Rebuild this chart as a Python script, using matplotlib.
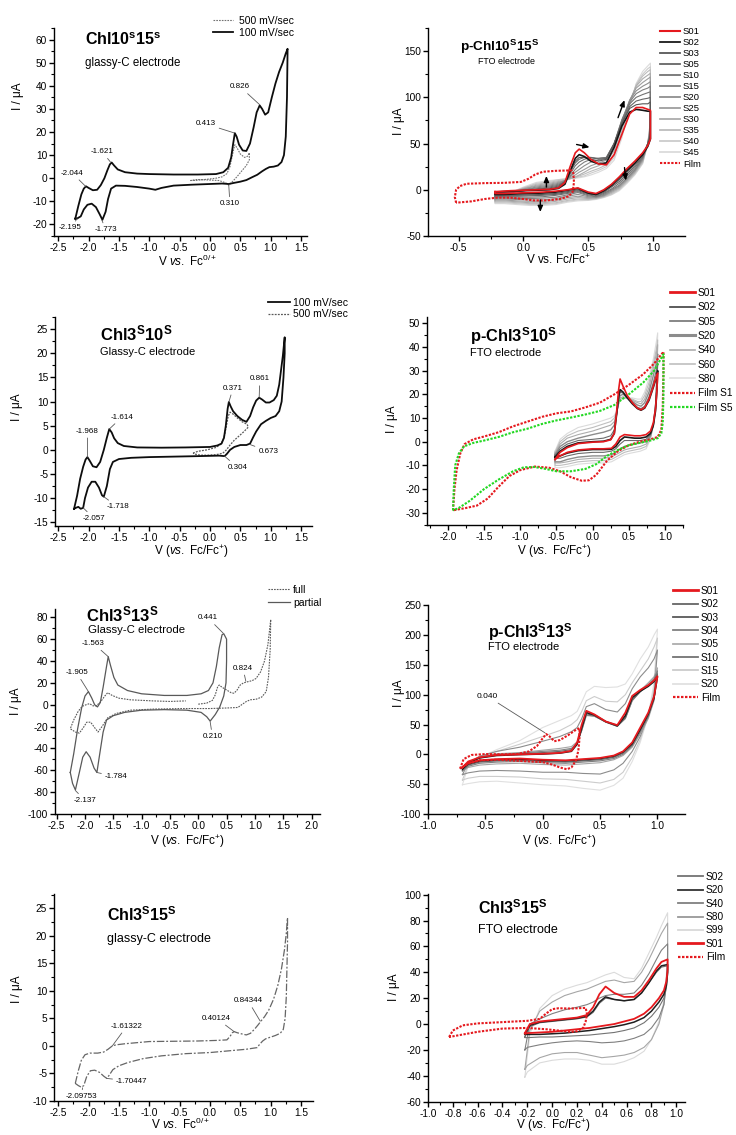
import matplotlib
matplotlib.use('Agg')
import matplotlib.pyplot as plt
from matplotlib.ticker import MultipleLocator, AutoMinorLocator, FuncFormatter
from matplotlib.lines import Line2D

plt.rcParams.update({
    'font.family': ['Liberation Sans', 'DejaVu Sans'],
    'mathtext.fontset': 'custom',
    'mathtext.rm': 'Liberation Sans',
    'mathtext.it': 'Liberation Sans:italic',
    'mathtext.bf': 'Liberation Sans:bold',
    'axes.unicode_minus': False,
})

# ---------------- DATA ----------------
# Panel 1: Chl10s15s glassy-C
p1_100 = [(-2.22,-17.5),(-2.17,-12),(-2.12,-7),(-2.08,-4.5),(-2.044,-3.5),(-2.0,-4.2),(-1.93,-5.2),(-1.86,-5.0),
          (-1.80,-3.0),(-1.74,0.0),(-1.69,3.5),(-1.65,6.0),(-1.62,6.8),(-1.58,5.5),(-1.52,3.8),(-1.4,2.6),(-1.2,2.0),
          (-1.0,1.8),(-0.6,1.6),(-0.2,1.6),(0.1,1.8),(0.22,2.6),(0.3,4.5),(0.35,9.0),(0.38,14.5),(0.41,19.5),(0.44,18.0),
          (0.48,14.5),(0.54,12.0),(0.6,11.8),(0.66,15.0),(0.72,22.0),(0.77,28.5),(0.82,31.5),(0.86,30.0),(0.91,27.5),
          (0.96,28.5),(1.02,35.0),(1.08,41.0),(1.14,46.0),(1.2,50.0),(1.25,54.0),(1.28,56.0),
          (1.28,56),(1.27,35),(1.25,18),(1.22,10),(1.18,7),(1.12,5.5),(1.05,5.0),(0.98,4.8),(0.92,4.0),(0.86,3.0),
          (0.78,1.5),(0.7,0.5),(0.6,-0.8),(0.5,-1.5),(0.4,-2.0),(0.31,-2.5),(0.2,-2.3),(0.0,-2.5),(-0.3,-2.8),
          (-0.6,-3.2),(-0.8,-4.2),(-0.9,-5.0),(-1.0,-4.5),(-1.2,-3.8),(-1.4,-3.3),(-1.55,-3.2),(-1.63,-4.5),
          (-1.68,-9.0),(-1.72,-14.5),(-1.773,-18.0),(-1.82,-15.5),(-1.88,-12.5),(-1.95,-11.0),(-2.02,-11.5),
          (-2.08,-13.5),(-2.13,-16.5),(-2.195,-17.5),(-2.22,-17.5)]
p1_500 = [(-0.32,-1.0),(-0.1,-0.6),(0.1,0.0),(0.2,0.6),(0.28,2.0),(0.33,5.0),(0.37,10.0),(0.41,14.5),(0.45,13.0),
          (0.5,10.5),(0.57,9.0),(0.62,9.5),(0.65,11.0),(0.65,8.0),(0.6,5.5),(0.52,3.0),(0.44,0.5),(0.37,-1.5),
          (0.31,-3.0),(0.26,-2.0),(0.15,-1.0),(0.0,-0.8),(-0.2,-0.6),(-0.32,-1.0)]
p1_labels = [("0.826", (0.50, 39.5), (0.82, 31.8)), ("0.413", (-0.07, 23.5), (0.40, 19.6)),
             ("-1.621", (-1.78, 11.5), (-1.64, 7.0)), ("-2.044", (-2.27, 2.2), (-2.05, -3.5)),
             ("-2.195", (-2.30, -21.5), (-2.19, -17.5)), ("-1.773", (-1.72, -22.3), (-1.78, -18.2)),
             ("0.310", (0.33, -11.0), (0.31, -3.0))]
p1_legend = ["500 mV/sec", "100 mV/sec"]

# Panel 2: p-Chl10S15S FTO
p2_vup = [-0.22, -0.1, 0.0, 0.1, 0.2, 0.27, 0.32, 0.36, 0.40, 0.43, 0.47, 0.52, 0.58, 0.64, 0.70, 0.76, 0.82, 0.87, 0.92, 0.96, 0.98]
p2_vdn = [0.98, 0.96, 0.92, 0.86, 0.80, 0.74, 0.68, 0.62, 0.56, 0.50, 0.42, 0.34, 0.25, 0.15, 0.05, -0.05, -0.15, -0.22]
p2_S01_up = [-2, -1, -0.5, 0, 0.5, 2, 8, 25, 40, 44, 40, 33, 28, 27, 38, 60, 82, 89, 89, 87, 86]
p2_S01_dn = [55, 48, 40, 31, 23, 14, 6, 0, -4, -2.5, 2, 0, -1.5, -2.5, -3, -3.5, -4, -4]
p2_S02_up = [-2.5, -1.5, -1, -0.5, 0, 1.5, 6, 20, 34, 38, 36, 31, 28, 29, 46, 69, 84, 87, 86, 85, 85]
p2_S02_dn = [55, 47, 38, 29, 21, 13, 5, -1, -5, -3.5, 1.5, -0.5, -2.5, -3.5, -4, -4.5, -5, -5]
p2_S03_up = [-3, -2, -1, 0, 1, 3, 8, 20, 31, 35, 35, 33, 31, 33, 50, 72, 88, 92, 93, 93, 95]
p2_S03_dn = [58, 50, 38, 28, 19, 11, 4, -2, -5.5, -4, 0, -2, -4, -5, -5.5, -6, -6, -6]
p2_S05_up = [-3.5, -2.5, -1, 0.5, 2, 4, 9, 19, 29, 33, 35, 35, 33, 34, 50, 73, 90, 96, 98, 99, 100]
p2_S05_dn = [60, 50, 36, 26, 17, 9, 3, -3, -6, -4.5, -1, -3, -5, -6, -6.5, -7, -7, -7]
p2_S10_up = [-4, -3, -1, 1, 3, 5, 9, 17, 26, 30, 33, 35, 34, 35, 50, 75, 93, 100, 103, 105, 106]
p2_S10_dn = [62, 50, 35, 24, 15, 7, 1, -4, -7, -5.5, -2, -4, -6, -7.5, -8, -8, -8, -8]
p2_S15_up = [-5, -3, 0, 2, 4, 6, 9, 15, 22, 26, 30, 33, 34, 35, 50, 76, 95, 104, 108, 110, 112]
p2_S15_dn = [64, 50, 34, 22, 13, 5, 0, -5, -7.5, -6.5, -3, -5.5, -8, -9, -9.5, -9.5, -9, -9]
p2_S20_up = [-6, -3, 0, 3, 5, 7, 10, 14, 19, 22, 26, 30, 32, 34, 48, 75, 97, 107, 112, 115, 117]
p2_S20_dn = [66, 50, 33, 21, 12, 4, -1, -6, -8, -7.5, -5, -7, -9.5, -11, -11, -10.5, -10, -10]
p2_S25_up = [-7, -3, 1, 4, 6, 8, 10, 13, 16, 19, 22, 26, 29, 32, 45, 72, 97, 110, 116, 120, 122]
p2_S25_dn = [68, 50, 32, 20, 11, 3, -2, -6.5, -8.5, -8.5, -7, -8.5, -11, -12.5, -12.5, -12, -11, -11]
p2_S30_up = [-8, -3, 1, 5, 7, 9, 10, 12, 14, 16, 19, 23, 26, 30, 42, 68, 96, 112, 120, 124, 126]
p2_S30_dn = [70, 50, 31, 19, 10, 2, -3, -7, -9, -9.5, -8.5, -10, -12.5, -14, -14, -13, -12, -12]
p2_S35_up = [-9, -3, 2, 6, 8, 10, 11, 12, 13, 15, 17, 20, 23, 27, 38, 64, 94, 113, 123, 128, 130]
p2_S35_dn = [72, 50, 30, 18, 9, 1, -4, -7.5, -9.5, -10.5, -10, -11.5, -14, -15, -15, -14, -13, -13]
p2_S40_up = [-10, -3, 2, 7, 9, 11, 11.5, 12, 13, 14, 15, 18, 21, 25, 35, 60, 92, 114, 125, 131, 133]
p2_S40_dn = [74, 50, 29, 17, 8, 0, -5, -8, -10, -11, -11, -12.5, -15, -16, -16, -15, -14, -14]
p2_S45_up = [-11, -3, 3, 8, 10, 11, 12, 12, 12.5, 13, 14, 16, 19, 23, 32, 56, 90, 115, 128, 134, 137]
p2_S45_dn = [76, 50, 28, 16, 7, -1, -5.5, -8.5, -10.5, -11.5, -12, -13.5, -16, -17, -17, -16, -15, -15]
p2_film = [(-0.52,-14),(-0.53,-8),(-0.52,0),(-0.49,4),(-0.44,6.5),(-0.3,7.2),(-0.15,7.5),(-0.02,8.5),(0.04,12),
           (0.09,16.5),(0.15,19.5),(0.25,20.5),(0.37,21),(0.385,18),(0.39,8),(0.38,-2),(0.35,-7),(0.28,-10),
           (0.18,-11.5),(0.08,-11.5),(0.0,-10),(-0.1,-8.5),(-0.2,-8.5),(-0.3,-10),(-0.4,-12.5),(-0.52,-14)]
p2_arrows = [((0.73, 78), (0.78, 97)), ((0.41, 49), (0.51, 46)), ((0.177, 3), (0.177, 15)),
             ((0.13, -11), (0.13, -24)), ((0.78, 24), (0.79, 10))]
p2_names = ["S01", "S02", "S03", "S05", "S10", "S15", "S20", "S25", "S30", "S35", "S40", "S45", "Film"]

# Panel 3: Chl3S10S glassy-C
p3_100 = [(-2.24,-12.2),(-2.19,-9.5),(-2.14,-6.0),(-2.09,-3.5),(-2.05,-2.0),(-2.02,-1.5),(-1.98,-2.3),(-1.93,-3.4),
          (-1.87,-3.6),(-1.81,-2.5),(-1.75,0.0),(-1.7,2.5),(-1.66,4.3),(-1.62,3.6),(-1.58,2.4),(-1.52,1.4),
          (-1.42,0.8),(-1.2,0.5),(-0.8,0.45),(-0.4,0.5),(0.0,0.6),(0.12,0.9),(0.19,1.3),(0.23,2.5),(0.26,5.0),
          (0.29,8.5),(0.31,9.9),(0.34,9.0),(0.38,8.0),(0.45,7.0),(0.53,6.2),(0.6,5.8),(0.66,7.0),(0.71,8.8),
          (0.76,10.2),(0.81,10.8),(0.86,10.4),(0.92,9.8),(0.98,9.8),(1.05,10.3),(1.1,11.2),(1.14,13.5),(1.17,16.5),
          (1.2,19.5),(1.23,23.3),
          (1.23,20),(1.21,15),(1.18,10),(1.14,8),(1.08,7.0),(1.0,6.6),(0.92,6.0),(0.84,5.3),(0.76,3.8),(0.71,2.6),
          (0.66,1.3),(0.6,1.0),(0.5,1.0),(0.4,0.6),(0.33,0.0),(0.28,-0.8),(0.24,-1.3),(0.15,-1.2),(-0.2,-1.3),
          (-0.6,-1.4),(-1.0,-1.5),(-1.3,-1.65),(-1.5,-1.9),(-1.6,-2.5),(-1.65,-4.0),(-1.7,-7.5),(-1.75,-9.7),
          (-1.78,-9.4),(-1.83,-7.8),(-1.89,-6.6),(-1.95,-6.6),(-2.01,-7.8),(-2.06,-10.0),(-2.09,-12.0),
          (-2.13,-12.2),(-2.17,-11.8),(-2.21,-12.0),(-2.24,-12.2)]
p3_500 = [(-0.28,-0.7),(-0.2,-0.3),(-0.05,0.0),(0.1,0.5),(0.18,1.2),(0.23,2.5),(0.27,5.0),(0.3,7.0),(0.33,7.8),
          (0.38,7.4),(0.45,6.6),(0.53,5.8),(0.61,5.3),(0.63,4.7),(0.56,3.8),(0.49,3.0),(0.4,2.0),(0.33,1.0),
          (0.27,0.0),(0.21,-0.7),(0.1,-1.0),(-0.05,-1.1),(-0.16,-1.1),(-0.24,-0.9),(-0.28,-0.7)]
p3_labels = [("0.371", (0.38, 12.8), (0.31, 9.9)), ("0.861", (0.82, 14.7), (0.81, 10.9)),
             ("-1.614", (-1.45, 6.8), (-1.66, 4.3)), ("-1.968", (-2.02, 3.9), (-2.02, -1.5)),
             ("0.673", (0.96, -0.3), (0.66, 1.1)), ("0.304", (0.45, -3.6), (0.24, -1.3)),
             ("-1.718", (-1.52, -11.8), (-1.75, -9.7)), ("-2.057", (-1.91, -14.2), (-2.09, -12.0))]
p3_legend = ["100 mV/sec", "500 mV/sec"]

# Panel 4: p-Chl3S10S FTO
p4_vup = [-0.52, -0.45, -0.35, -0.2, 0.0, 0.15, 0.25, 0.30, 0.33, 0.36, 0.38, 0.42, 0.48, 0.55, 0.62, 0.67, 0.72, 0.78, 0.84, 0.88, 0.90]
p4_vdn = [0.90, 0.89, 0.87, 0.84, 0.80, 0.74, 0.66, 0.58, 0.50, 0.44, 0.38, 0.32, 0.26, 0.15, 0.0, -0.2, -0.35, -0.45, -0.52]
p4_S01_up = [-7.5, -4.5, -2.5, -0.8, -0.2, 0, 0.8, 3.5, 12, 22, 26.5, 23.5, 19.5, 16.5, 14.2, 13.5, 14.5, 18, 23.5, 27.5, 29]
p4_S01_dn = [29, 22, 14, 8, 4.5, 3, 2.5, 2.5, 2.8, 3, 2, -1, -2.8, -3, -3, -3.5, -4.5, -6, -7.5]
p4_S02_up = [-6.5, -4, -2, -0.5, 0, 0.2, 1, 3.5, 11, 19, 22, 21, 18.5, 16, 14, 13.3, 14.2, 17.5, 23, 27, 30]
p4_S02_dn = [30, 22, 13, 7, 3.5, 2, 1.5, 1.5, 1.8, 2, 0.5, -2, -3.2, -3.3, -3.3, -3.8, -4.8, -6, -6.5]
p4_S05_up = [-6, -3, -1, 0.5, 1, 1.5, 2.5, 5, 11, 18, 21, 20.5, 18.5, 16.5, 14.5, 14, 15, 19, 25, 30, 33]
p4_S05_dn = [33, 24, 14, 7, 3, 1, 0.5, 0.5, 0.5, 0.5, -1, -3, -4, -4.5, -4.5, -5, -6, -7, -7]
p4_S20_up = [-5.5, -2, 0, 1.5, 3, 4, 5, 7, 11.5, 17, 19.5, 20, 19, 17, 15.5, 15, 16.5, 21, 28, 33, 37]
p4_S20_dn = [37, 26, 15, 7, 2.5, 0, -0.5, -1, -1.5, -2, -3, -4.5, -5.5, -6, -6, -6.5, -7.5, -8.5, -8.5]
p4_S40_up = [-5, -1, 1.5, 3, 4.5, 6, 7, 8.5, 12, 16, 18.5, 19, 18.5, 17.5, 16.5, 16, 18, 23, 31, 37, 41]
p4_S40_dn = [41, 28, 16, 7, 2, -1, -2, -2.5, -3, -3.5, -4.5, -5.5, -6.5, -7, -7, -7.5, -8.5, -9, -9]
p4_S60_up = [-4.5, 0, 2.5, 4.5, 6, 7.5, 8.5, 10, 12.5, 16, 18, 18.5, 18.5, 18, 17, 17, 19.5, 25, 33, 39, 43]
p4_S60_dn = [43, 29, 16, 7, 1.5, -2, -3, -3.5, -4, -4.5, -5.5, -6.5, -7.5, -8, -8, -8.5, -9.5, -10, -10]
p4_S80_up = [-4, 1, 3.5, 6, 7.5, 9, 10, 11, 13, 16, 17.5, 18, 18.5, 18.5, 18, 18, 21, 27, 35, 42, 46]
p4_S80_dn = [46, 30, 16, 7, 1, -3, -4, -4.5, -5, -5.5, -6.5, -7.5, -8.5, -9, -9, -9.5, -10.5, -11, -11]
p4_film1 = [(-1.93,-29),(-1.91,-20),(-1.88,-12),(-1.83,-5),(-1.77,-1),(-1.65,1),(-1.5,2.2),(-1.3,4),(-1.1,6.5),
            (-0.9,8.5),(-0.7,10.5),(-0.5,12),(-0.3,12.8),(-0.1,14.5),(0.1,16.5),(0.3,20),(0.5,24),(0.7,28.5),
            (0.85,33),(0.98,38),(0.98,30),(0.97,15),(0.95,5),(0.9,2),(0.8,1),(0.65,0),(0.5,-1.5),(0.35,-4),
            (0.2,-8),(0.05,-14),(-0.05,-16.3),(-0.15,-16.5),(-0.3,-15),(-0.45,-12.5),(-0.6,-11),(-0.8,-10.5),
            (-1.0,-12),(-1.15,-14.5),(-1.3,-19),(-1.45,-24),(-1.6,-27),(-1.75,-28),(-1.93,-29)]
p4_film5 = [(-1.93,-29),(-1.92,-20),(-1.9,-10),(-1.85,-5),(-1.78,-2),(-1.65,-0.5),(-1.5,0.5),(-1.3,2),(-1.1,4),
            (-0.9,5.5),(-0.7,7.5),(-0.5,9),(-0.3,10.2),(-0.1,11.5),(0.1,13),(0.3,15.5),(0.5,20),(0.7,25),(0.85,30),
            (0.98,37),(0.98,20),(0.97,8),(0.95,3.5),(0.9,1.5),(0.8,0.5),(0.65,-0.5),(0.5,-1.5),(0.35,-3.5),(0.2,-6),
            (0.05,-9.5),(-0.1,-11.5),(-0.3,-12.5),(-0.5,-12.5),(-0.65,-11.5),(-0.8,-10.7),(-0.95,-10.8),(-1.1,-12.5),
            (-1.3,-16),(-1.5,-20),(-1.7,-25),(-1.85,-28),(-1.93,-29)]
p4_names = ["S01", "S02", "S05", "S20", "S40", "S60", "S80", "Film S1", "Film S5"]

# Panel 5: Chl3S13S glassy-C
p5_partial = [(-2.26,-62),(-2.2,-45),(-2.13,-22),(-2.06,-3),(-2.0,8),(-1.94,12),(-1.88,6),(-1.83,0),(-1.78,-2),
              (-1.73,2),(-1.68,16),(-1.62,35),(-1.59,44),(-1.55,36),(-1.49,25),(-1.42,18),(-1.25,13),(-1.0,10),
              (-0.6,8.5),(-0.2,8.5),(0.05,10),(0.18,13),(0.26,20),(0.32,35),(0.37,52),(0.42,64),(0.45,65),(0.5,60),
              (0.5,40),(0.49,20),(0.45,8),(0.38,-2),(0.3,-9),(0.21,-15),(0.15,-11),(0.05,-7),(-0.2,-5),(-0.6,-4.5),
              (-1.0,-5),(-1.3,-7),(-1.5,-10),(-1.62,-14),(-1.68,-25),(-1.74,-45),(-1.79,-62),(-1.84,-58),(-1.91,-48),
              (-1.98,-43),(-2.04,-48),(-2.1,-62),(-2.17,-78),(-2.22,-72),(-2.26,-62)]
p5_full = [(0.0,0.5),(0.15,1.5),(0.25,4),(0.3,9),(0.34,16),(0.37,18),(0.42,16),(0.5,13.5),(0.58,11),(0.63,10.5),
           (0.68,13),(0.74,18),(0.8,20),(0.87,21),(0.95,22),(1.02,24),(1.1,30),(1.17,40),(1.23,55),(1.28,78),
           (1.27,50),(1.24,25),(1.2,12),(1.12,7),(1.02,5),(0.92,4.5),(0.85,3),(0.78,0.5),(0.7,-2.5),(0.5,-3),
           (0.2,-3.5),(-0.3,-3.5),(-0.8,-4),(-1.2,-5),(-1.45,-8),(-1.6,-12),(-1.7,-20),(-1.77,-25),(-1.83,-21),
           (-1.9,-16),(-1.97,-16),(-2.03,-21),(-2.1,-26),(-2.17,-25),(-2.26,-22),(-2.2,-14),(-2.12,-6),
           (-2.05,-1.5),(-1.98,0),(-1.92,1),(-1.86,-1),(-1.8,-1),(-1.72,3),(-1.65,8),(-1.6,11),(-1.52,8.5),
           (-1.4,6),(-1.2,4.5),(-0.8,3.5),(-0.5,3),(-0.22,3.5)]
p5_labels = [("0.441", (0.17, 79.5), (0.44, 65.5)), ("0.824", (0.79, 33.5), (0.84, 21.5)),
             ("0.210", (0.25, -29), (0.21, -15.5)), ("-1.563", (-1.85, 56), (-1.59, 44)),
             ("-1.905", (-2.15, 29.5), (-1.94, 12)), ("-1.784", (-1.45, -66), (-1.79, -62)),
             ("-2.137", (-2.0, -87.5), (-2.17, -78.5))]
p5_legend = ["full", "partial"]

# Panel 6: p-Chl3S13S FTO
p6_vup = [-0.70, -0.65, -0.55, -0.40, -0.20, 0.0, 0.15, 0.25, 0.30, 0.34, 0.38, 0.45, 0.55, 0.65, 0.72, 0.78, 0.85, 0.92, 0.97, 1.0]
p6_vdn = [1.0, 0.97, 0.92, 0.85, 0.78, 0.70, 0.62, 0.50, 0.35, 0.20, 0.0, -0.2, -0.4, -0.55, -0.65, -0.70]
p6_S01_up = [-22, -12, -5, -1, 0, 1, 2.5, 6, 20, 50, 73, 67, 55, 49, 70, 98, 108, 116, 124, 131]
p6_S01_dn = [131, 97, 70, 45, 20, 5, -2, -6, -8, -10, -9, -7, -8, -10, -15, -22]
p6_S02_up = [-24, -14, -6, -2, -0.5, 0.5, 2, 5, 17, 45, 70, 66, 55, 48, 65, 95, 106, 114, 122, 130]
p6_S02_dn = [130, 95, 68, 42, 18, 4, -3, -7, -9, -11, -10, -8, -9, -11, -16, -24]
p6_S03_up = [-26, -15, -6, -1, 1, 3, 5, 8, 18, 42, 68, 65, 54, 47, 62, 92, 105, 115, 124, 135]
p6_S03_dn = [135, 93, 65, 40, 16, 2, -5, -9, -11, -13, -12, -10, -11, -13, -18, -26]
p6_S04_up = [-27, -15, -5, 0, 2, 5, 7, 10, 19, 40, 66, 64, 54, 47, 60, 90, 105, 117, 127, 140]
p6_S04_dn = [140, 92, 63, 37, 14, 0, -7, -11, -13, -15, -14, -12, -13, -15, -20, -27]
p6_S05_up = [-28, -15, -4, 1, 3, 7, 10, 13, 21, 40, 65, 64, 55, 48, 60, 90, 107, 120, 130, 145]
p6_S05_dn = [145, 90, 60, 34, 12, -2, -9, -14, -16, -18, -17, -15, -16, -18, -22, -28]
p6_S10_up = [-34, -15, -3, 5, 12, 22, 30, 38, 45, 60, 80, 85, 75, 71, 85, 110, 130, 145, 160, 175]
p6_S10_dn = [175, 100, 65, 30, 5, -15, -26, -33, -32, -30, -30, -28, -27, -28, -31, -34]
p6_S15_up = [-43, -18, -5, 5, 17, 30, 40, 50, 58, 72, 90, 97, 89, 88, 100, 120, 140, 160, 180, 195]
p6_S15_dn = [195, 110, 65, 25, -5, -30, -42, -48, -45, -42, -41, -38, -37, -37, -40, -43]
p6_S20_up = [-51, -20, -5, 8, 23, 45, 57, 65, 72, 88, 105, 114, 112, 113, 118, 135, 160, 180, 200, 210]
p6_S20_dn = [210, 120, 65, 20, -12, -40, -52, -60, -57, -53, -51, -48, -45, -46, -49, -51]
p6_film = [(-0.72,-24),(-0.69,-8),(-0.62,-1),(-0.5,0.5),(-0.35,0),(-0.22,0.5),(-0.12,5),(-0.05,14),(0.0,27),
           (0.03,34),(0.06,30),(0.1,22),(0.15,24),(0.22,32),(0.28,40),(0.32,44),(0.32,25),(0.31,6),(0.29,-10),
           (0.25,-22),(0.21,-25),(0.15,-22),(0.08,-17),(0.0,-13),(-0.2,-11),(-0.4,-9),(-0.55,-10),(-0.65,-15),
           (-0.72,-24)]
p6_labels = [("0.040", (-0.48, 97), (0.02, 36))]
p6_names = ["S01", "S02", "S03", "S04", "S05", "S10", "S15", "S20", "Film"]

# Panel 7: Chl3S15S glassy-C
p7_cv = [(-2.22,-6.8),(-2.17,-4.5),(-2.12,-2.6),(-2.06,-1.6),(-1.98,-1.3),(-1.85,-1.3),(-1.75,-1.1),(-1.68,-0.6),
         (-1.61,0.0),(-1.55,0.2),(-1.4,0.4),(-1.2,0.6),(-1.0,0.8),(-0.6,0.85),(-0.2,0.9),(0.1,1.0),(0.28,1.1),
         (0.33,1.7),(0.37,2.4),(0.40,2.6),(0.45,2.4),(0.52,2.2),(0.6,2.0),(0.67,2.3),(0.74,3.1),(0.8,3.9),
         (0.84,4.5),(0.9,5.3),(0.97,6.5),(1.05,8.5),(1.12,11),(1.18,14),(1.23,17.5),(1.26,20.5),(1.28,23.3),
         (1.28,19),(1.27,14),(1.26,9),(1.24,5),(1.21,3),(1.16,2.3),(1.08,1.9),(1.0,1.6),(0.92,1.3),(0.87,0.9),
         (0.82,0.3),(0.78,-0.3),(0.6,-0.6),(0.3,-0.9),(0.0,-1.2),(-0.4,-1.4),(-0.8,-1.8),(-1.1,-2.3),(-1.35,-3.0),
         (-1.5,-3.6),(-1.6,-4.3),(-1.66,-5.3),(-1.70,-5.9),(-1.75,-5.5),(-1.82,-4.8),(-1.9,-4.4),(-1.97,-4.5),
         (-2.03,-5.5),(-2.08,-7.2),(-2.12,-7.5),(-2.17,-7.2),(-2.22,-6.8)]
p7_labels = [("0.84344", (0.63, 8.2), (0.83, 4.5)), ("0.40124", (0.11, 5.0), (0.40, 2.6)),
             ("-1.61322", (-1.37, 3.6), (-1.61, 0.0)), ("-1.70447", (-1.29, -6.4), (-1.70, -5.9)),
             ("-2.09753", (-2.12, -9.2), (-2.10, -7.6))]

# Panel 8: Chl3S15S FTO
p8_vup = [-0.22, -0.18, -0.1, 0.0, 0.1, 0.2, 0.28, 0.33, 0.38, 0.43, 0.5, 0.58, 0.66, 0.72, 0.78, 0.84, 0.88, 0.93]
p8_vdn = [0.93, 0.92, 0.9, 0.86, 0.8, 0.74, 0.66, 0.58, 0.5, 0.4, 0.3, 0.2, 0.1, 0.0, -0.1, -0.2, -0.22]
p8_S01_up = [-7, 0, 2, 3, 4, 5, 7, 13, 23, 29, 24, 21, 21, 26, 34, 43, 48, 50]
p8_S01_dn = [42, 33, 26, 20, 13, 8, 4, 2, 0, -1.5, -3, -4, -5, -6, -6.5, -7, -7.5]
p8_S20_up = [-8, -1, 1.5, 2.5, 3.5, 4.5, 6, 10, 17, 21, 19, 18, 19, 24, 32, 41, 45, 46]
p8_S20_dn = [40, 30, 23, 17, 10, 5, 1.5, -0.5, -2, -3.5, -5, -6, -7, -7.5, -8, -8, -8]
p8_S02_up = [-10, -2, 1, 2, 3, 4, 5.5, 9, 16, 20, 19, 18, 19, 24, 32, 40, 44, 45]
p8_S02_dn = [38, 28, 20, 13, 6, 1, -3, -5, -6.5, -7.5, -8.5, -9, -9.5, -10, -10, -10.5, -10.5]
p8_S40_up = [-20, 0, 4, 8, 11, 13, 15, 17, 20, 22, 23, 23, 24, 30, 39, 50, 57, 62]
p8_S40_dn = [45, 30, 15, 5, -3, -8, -11, -13, -14, -14.5, -13.5, -13, -13.5, -14.5, -16, -18, -20]
p8_S80_up = [-35, -5, 10, 17, 22, 25, 27, 29, 31, 33, 34, 32, 33, 40, 50, 62, 70, 78]
p8_S80_dn = [50, 35, 15, 0, -12, -18, -22, -24, -25, -26, -24, -22, -22, -23, -26, -32, -35]
p8_S99_up = [-41, -8, 12, 22, 27, 30, 32, 34, 36, 38, 40, 36, 35, 43, 55, 67, 76, 86]
p8_S99_dn = [55, 38, 18, 2, -12, -21, -26, -29, -31, -31, -28, -27, -27, -28, -30, -37, -41]
p8_film = [(-0.83,-10),(-0.8,-5),(-0.72,-1),(-0.6,0.5),(-0.4,1.5),(-0.2,2.5),(-0.1,4),(-0.05,8),(0.0,11.5),
           (0.05,12.2),(0.15,12),(0.27,12.5),(0.28,8),(0.27,2),(0.25,-3),(0.2,-5.5),(0.15,-6),(0.05,-5),
           (-0.05,-4),(-0.2,-3),(-0.4,-3.5),(-0.6,-6),(-0.83,-10)]
p8_names = ["S02", "S20", "S40", "S80", "S99", "S01", "Film"]

# ---------------- DRAWING ----------------
W, H = 736, 1135
fig = plt.figure(figsize=(W / 100, H / 100), dpi=100)
RED = '#e5191e'
GREEN = '#22d822'
DOT = (0, (1.1, 0.7))


def add_axes(l, r, t, b):
    return fig.add_axes([l / W, 1 - b / H, (r - l) / W, (b - t) / H])


def fmt1(v, pos):
    s = f"{v:.1f}"
    return "0.0" if s == "-0.0" else s


def fmt0(v, pos):
    s = f"{v:.0f}"
    return "0" if s == "-0" else s


def style(ax, xlim, ylim, xmaj, ymaj, xlabel, ylab_dx, ylab_y, xlab_dy, xlab_x):
    ax.set_xlim(xlim)
    ax.set_ylim(ylim)
    ax.patch.set_alpha(0)
    for s in ['top', 'right']:
        ax.spines[s].set_visible(False)
    for s in ['left', 'bottom']:
        ax.spines[s].set_linewidth(1.0)
    ax.xaxis.set_major_locator(MultipleLocator(xmaj))
    ax.xaxis.set_minor_locator(AutoMinorLocator(2))
    ax.yaxis.set_major_locator(MultipleLocator(ymaj))
    ax.yaxis.set_minor_locator(AutoMinorLocator(2))
    ax.xaxis.set_major_formatter(FuncFormatter(fmt1))
    ax.yaxis.set_major_formatter(FuncFormatter(fmt0))
    ax.tick_params(which='major', direction='out', length=3.5, width=1.0, labelsize=7.3, pad=1.5)
    ax.tick_params(which='minor', direction='out', length=2, width=0.8)
    bb = ax.get_position()
    wpx, hpx = bb.width * W, bb.height * H
    ax.set_ylabel("I / \u03bcA", fontsize=8.5)
    ax.yaxis.set_label_coords(-ylab_dx / wpx, ylab_y)
    ax.set_xlabel(xlabel, fontsize=8.5)
    ax.xaxis.set_label_coords(xlab_x, -xlab_dy / hpx)


def plot_pairs(ax, pairs, **kw):
    v, i = zip(*pairs)
    ax.plot(v, i, **kw)


def plot_loop(ax, vup, vdn, up, dn, **kw):
    ax.plot(list(vup) + list(vdn) + [vup[0]], list(up) + list(dn) + [up[0]], **kw)


def labels(ax, items, fs=5.8):
    for txt, txy, pxy in items:
        ax.annotate(txt, xy=pxy, xytext=txy, fontsize=fs, ha='center', va='center',
                    arrowprops=dict(arrowstyle='-', color='0.35', lw=0.6, shrinkA=0.5, shrinkB=0))


def legend(ax, names, styles, left_px, top_px, fs, hl_px, gap_px, pitch_px):
    fs_px = fs * 100 / 72
    handles = [Line2D([], [], **st) for st in styles]
    ax.legend(handles, names, loc='upper left', bbox_to_anchor=(left_px / W, 1 - top_px / H),
              bbox_transform=fig.transFigure, frameon=False, fontsize=fs,
              handlelength=hl_px / fs_px, handletextpad=gap_px / fs_px,
              labelspacing=max(pitch_px / fs_px - 0.98, 0.0), borderpad=0, borderaxespad=0)


def title(px, py, big, fs_big, px2, py2, small, fs_small):
    fig.text(px / W, 1 - py / H, big, fontsize=fs_big, fontweight='bold', ha='left', va='center')
    fig.text(px2 / W, 1 - py2 / H, small, fontsize=fs_small, ha='left', va='center')


VS_FC0 = r"V $\mathit{vs.}$ Fc$^{0/+}$"
VS_FCP = r"V ($\mathit{vs.}$ Fc/Fc$^{+}$)"

# ---- Panel 1
ax1 = add_axes(54, 307, 28, 236)
style(ax1, (-2.571, 1.6), (-25, 65), 0.5, 10, VS_FC0, 30, 0.67, 18, 0.53)
st_500 = dict(color='0.45', lw=0.8, ls=(0, (1.5, 1)))
st_100 = dict(color='0.05', lw=1.3)
plot_pairs(ax1, p1_500, **st_500)
plot_pairs(ax1, p1_100, **st_100)
labels(ax1, p1_labels)
legend(ax1, p1_legend, [st_500, st_100], 213, 16, 7.5, 20, 6, 12)
title(85, 40, r"Chl10$^\mathbf{s}$15$^\mathbf{s}$", 11.5, 85, 63, "glassy-C electrode", 8.3)

# ---- Panel 2
ax2 = add_axes(428, 685, 28, 236)
style(ax2, (-0.737, 1.247), (-50, 175), 0.5, 50, r"V vs. Fc/Fc$^{+}$", 23, 0.55, 17, 0.51)
p2_gray = [(p2_S45_up, p2_S45_dn, '0.86'), (p2_S40_up, p2_S40_dn, '0.80'), (p2_S35_up, p2_S35_dn, '0.74'),
           (p2_S30_up, p2_S30_dn, '0.68'), (p2_S25_up, p2_S25_dn, '0.62'), (p2_S20_up, p2_S20_dn, '0.56'),
           (p2_S15_up, p2_S15_dn, '0.50'), (p2_S10_up, p2_S10_dn, '0.45'), (p2_S05_up, p2_S05_dn, '0.40'),
           (p2_S03_up, p2_S03_dn, '0.34')]
for up, dn, c in p2_gray:
    plot_loop(ax2, p2_vup, p2_vdn, up, dn, color=c, lw=0.8)
plot_loop(ax2, p2_vup, p2_vdn, p2_S02_up, p2_S02_dn, color='0.08', lw=1.2)
plot_loop(ax2, p2_vup, p2_vdn, p2_S01_up, p2_S01_dn, color=RED, lw=1.2)
plot_pairs(ax2, p2_film, color=RED, lw=1.5, ls=DOT)
for a, b in p2_arrows:
    ax2.annotate("", xy=b, xytext=a, arrowprops=dict(arrowstyle='-|>,head_length=0.35,head_width=0.15',
                                                     color='black', lw=1.0, shrinkA=0, shrinkB=0))
st2 = [dict(color=RED, lw=1.5), dict(color='0.1', lw=1.3)] + \
      [dict(color=c, lw=1.3) for c in ['0.34', '0.40', '0.45', '0.50', '0.56', '0.62', '0.68', '0.74', '0.80', '0.86']] + \
      [dict(color=RED, lw=1.5, ls=DOT)]
legend(ax2, p2_names, st2, 660, 27, 6.8, 20, 3, 11.3)
title(460, 47, r"p-Chl10$^\mathbf{S}$15$^\mathbf{S}$", 9.7, 478, 62, "FTO electrode", 6.4)

# ---- Panel 3
ax3 = add_axes(55, 312, 317, 525.7)
style(ax3, (-2.554, 1.68), (-15.7, 27.5), 0.5, 5, VS_FCP, 32, 0.57, 17, 0.53)
st3_100 = dict(color='0.05', lw=1.3)
st3_500 = dict(color='0.35', lw=0.9, ls=(0, (1.5, 1)))
plot_pairs(ax3, p3_500, **st3_500)
plot_pairs(ax3, p3_100, **st3_100)
labels(ax3, p3_labels)
legend(ax3, p3_legend, [st3_100, st3_500], 268, 298, 7.5, 22, 3, 11.5)
title(100, 333, r"Chl3$^\mathbf{S}$10$^\mathbf{S}$", 12, 100, 352, "Glassy-C electrode", 8)

# ---- Panel 4
ax4 = add_axes(427, 683, 317, 525)
style(ax4, (-2.29, 1.25), (-35.2, 52.7), 0.5, 10, VS_FCP, 29, 0.51, 18, 0.5)
p4_gray = [(p4_S80_up, p4_S80_dn, '0.86', 0.8), (p4_S60_up, p4_S60_dn, '0.75', 0.8),
           (p4_S40_up, p4_S40_dn, '0.68', 0.8), (p4_S20_up, p4_S20_dn, '0.55', 1.0),
           (p4_S05_up, p4_S05_dn, '0.42', 0.8)]
for up, dn, c, lw in p4_gray:
    plot_loop(ax4, p4_vup, p4_vdn, up, dn, color=c, lw=lw)
plot_pairs(ax4, p4_film1, color=RED, lw=1.5, ls=DOT)
plot_pairs(ax4, p4_film5, color=GREEN, lw=1.5, ls=DOT)
plot_loop(ax4, p4_vup, p4_vdn, p4_S02_up, p4_S02_dn, color='0.1', lw=1.2)
plot_loop(ax4, p4_vup, p4_vdn, p4_S01_up, p4_S01_dn, color=RED, lw=1.2)
st4 = [dict(color=RED, lw=2.0), dict(color='0.25', lw=1.2), dict(color='0.45', lw=1.2),
       dict(color='0.55', lw=2.2), dict(color='0.68', lw=1.2), dict(color='0.75', lw=1.2),
       dict(color='0.88', lw=1.2), dict(color=RED, lw=1.6, ls=DOT), dict(color=GREEN, lw=1.6, ls=DOT)]
legend(ax4, p4_names, st4, 670, 288, 7.3, 25, 3, 14.25)
title(470, 336, r"p-Chl3$^\mathbf{S}$10$^\mathbf{S}$", 11.8, 470, 353.5, "FTO electrode", 8)

# ---- Panel 5
ax5 = add_axes(55, 320, 609, 814)
style(ax5, (-2.53, 2.15), (-100, 87.6), 0.5, 20, VS_FCP, 33, 0.55, 19, 0.5)
st5_full = dict(color='0.35', lw=0.8, ls=(0, (1.5, 1)))
st5_part = dict(color='0.35', lw=0.9)
plot_pairs(ax5, p5_full, **st5_full)
plot_pairs(ax5, p5_partial, **st5_part)
labels(ax5, p5_labels)
legend(ax5, p5_legend, [st5_full, st5_part], 268, 585, 7.5, 22, 3, 13)
title(86, 614, r"Chl3$^\mathbf{S}$13$^\mathbf{S}$", 12, 88, 630, "Glassy-C electrode", 8.2)

# ---- Panel 6
ax6 = add_axes(428, 685, 605, 814)
style(ax6, (-1.0, 1.24), (-100, 250.4), 0.5, 50, VS_FCP, 23, 0.58, 19, 0.51)
p6_gray = [(p6_S20_up, p6_S20_dn, '0.88'), (p6_S15_up, p6_S15_dn, '0.80'), (p6_S10_up, p6_S10_dn, '0.55'),
           (p6_S05_up, p6_S05_dn, '0.65'), (p6_S04_up, p6_S04_dn, '0.5'), (p6_S03_up, p6_S03_dn, '0.4')]
for up, dn, c in p6_gray:
    plot_loop(ax6, p6_vup, p6_vdn, up, dn, color=c, lw=0.8)
plot_loop(ax6, p6_vup, p6_vdn, p6_S02_up, p6_S02_dn, color='0.1', lw=1.1)
plot_pairs(ax6, p6_film, color=RED, lw=1.5, ls=DOT)
plot_loop(ax6, p6_vup, p6_vdn, p6_S01_up, p6_S01_dn, color=RED, lw=1.3)
labels(ax6, p6_labels, fs=6)
st6 = [dict(color=RED, lw=2.0), dict(color='0.4', lw=1.3), dict(color='0.35', lw=1.3),
       dict(color='0.5', lw=1.3), dict(color='0.68', lw=1.3), dict(color='0.45', lw=1.3),
       dict(color='0.8', lw=1.3), dict(color='0.88', lw=1.3), dict(color=RED, lw=1.6, ls=DOT)]
legend(ax6, p6_names, st6, 673, 586, 7.3, 25, 3, 13.25)
title(488, 632, r"p-Chl3$^\mathbf{S}$13$^\mathbf{S}$", 11.5, 488, 647, "FTO electrode", 8)

# ---- Panel 7
ax7 = add_axes(54, 313, 894, 1101)
style(ax7, (-2.571, 1.7), (-10, 27.6), 0.5, 5, VS_FC0, 31, 0.54, 16, 0.49)
plot_pairs(ax7, p7_cv, color='0.4', lw=0.9, ls=(0, (6, 1.5, 1.5, 1.5)))
labels(ax7, p7_labels)
title(107, 915, r"Chl3$^\mathbf{S}$15$^\mathbf{S}$", 11.5, 107, 939, "glassy-C electrode", 9)

# ---- Panel 8
ax8 = add_axes(428, 685, 894, 1101.7)
style(ax8, (-1.0, 1.07), (-60, 100.5), 0.2, 20, VS_FCP, 28, 0.55, 16, 0.49)
p8_gray = [(p8_S99_up, p8_S99_dn, '0.86'), (p8_S80_up, p8_S80_dn, '0.65'), (p8_S40_up, p8_S40_dn, '0.5'),
           (p8_S02_up, p8_S02_dn, '0.45')]
for up, dn, c in p8_gray:
    plot_loop(ax8, p8_vup, p8_vdn, up, dn, color=c, lw=0.8)
plot_loop(ax8, p8_vup, p8_vdn, p8_S20_up, p8_S20_dn, color='0.12', lw=1.1)
plot_pairs(ax8, p8_film, color=RED, lw=1.5, ls=DOT)
plot_loop(ax8, p8_vup, p8_vdn, p8_S01_up, p8_S01_dn, color=RED, lw=1.3)
st8 = [dict(color='0.45', lw=1.3), dict(color='0.2', lw=1.3), dict(color='0.5', lw=1.3),
       dict(color='0.6', lw=1.3), dict(color='0.85', lw=1.3), dict(color=RED, lw=2.0),
       dict(color=RED, lw=1.6, ls=DOT)]
legend(ax8, p8_names, st8, 678, 872, 7.3, 25, 3, 13.3)
title(478, 908, r"Chl3$^\mathbf{S}$15$^\mathbf{S}$", 11.5, 478, 930, "FTO electrode", 9)

fig.savefig('out.png', dpi=100)
